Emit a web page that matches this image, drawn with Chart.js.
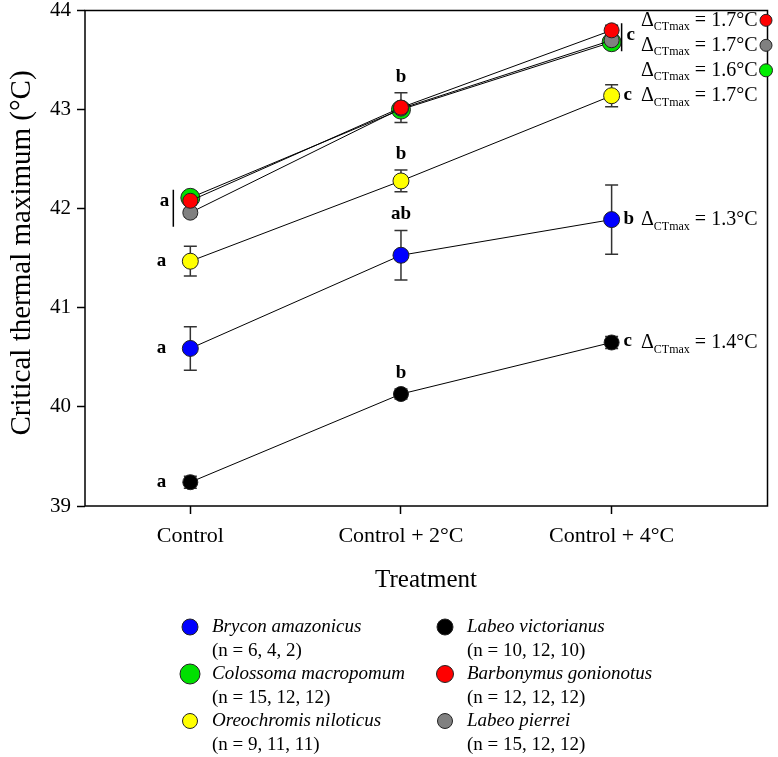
<!DOCTYPE html>
<html>
<head>
<meta charset="utf-8">
<script src="https://cdn.jsdelivr.net/npm/chart.js@4"></script>
<style>
  html, body { margin: 0; padding: 0; background: #fff; }
  #wrap { width: 778px; height: 757px; }
</style>
</head>
<body>
<div id="wrap"><canvas id="myChart" width="778" height="757"></canvas></div>
<script>
// categories and tick labels
var categories = ['Control', 'Control + 2°C', 'Control + 4°C'];
var yTicks = [39, 40, 41, 42, 43, 44];

// series: mean CTmax and error
var brycon = [40.59, 41.53, 41.89];
var bryconErr = [0.22, 0.25, 0.35];
var colossoma = [42.11, 43.00, 43.68];
var colossomaErr = [0.05, 0.05, 0.05];
var oreochromis = [41.47, 42.28, 43.14];
var oreochromisErr = [0.15, 0.11, 0.11];
var victorianus = [39.24, 40.13, 40.65];
var victorianusErr = [0.06, 0.05, 0.06];
var barbonymus = [42.08, 43.02, 43.80];
var barbonymusErr = [0.04, 0.15, 0.05];
var pierrei = [41.96, 43.01, 43.70];
var pierreiErr = [0.04, 0.05, 0.04];

// significance letters per treatment
var lettersBrycon = ['a', 'ab', 'b'];
var lettersOreo = ['a', 'b', 'c'];
var lettersVict = ['a', 'b', 'c'];
var lettersGroup = ['a', 'b', 'c'];   // colossoma / barbonymus / pierrei

// delta CTmax labels
var deltaLabels = ['1.7', '1.7', '1.6', '1.7', '1.3', '1.4'];

var legendNames = ['Brycon amazonicus', 'Colossoma macropomum', 'Oreochromis niloticus',
                   'Labeo victorianus', 'Barbonymus gonionotus', 'Labeo pierrei'];
var legendN = ['(n = 6, 4, 2)', '(n = 15, 12, 12)', '(n = 9, 11, 11)',
               '(n = 10, 12, 10)', '(n = 12, 12, 12)', '(n = 15, 12, 12)'];

var SERIF = '"Liberation Serif", "Times New Roman", serif';

function pts(arr) {
  var out = [];
  for (var i = 0; i < arr.length; i++) out.push({x: i, y: arr[i]});
  return out;
}

function ds(label, vals, errs, color, r, ord) {
  return {
    label: label, data: pts(vals), errs: errs,
    borderColor: '#000', borderWidth: 1,
    pointBackgroundColor: color, pointBorderColor: '#222', pointBorderWidth: 1,
    pointRadius: r, pointHoverRadius: r, tension: 0, fill: false, order: ord
  };
}

var datasets = [
  ds('Brycon amazonicus', brycon, bryconErr, '#0000ff', 8, 6),
  ds('Colossoma macropomum', colossoma, colossomaErr, '#00e000', 9.5, 5),
  ds('Oreochromis niloticus', oreochromis, oreochromisErr, '#ffff00', 8, 4),
  ds('Labeo victorianus', victorianus, victorianusErr, '#000000', 7.5, 3),
  ds('Labeo pierrei', pierrei, pierreiErr, '#808080', 7.5, 2),
  ds('Barbonymus gonionotus', barbonymus, barbonymusErr, '#ff0000', 7.5, 1)
];

var legendColors = ['#0000ff', '#00e000', '#ffff00', '#000000', '#ff0000', '#808080'];
var legendRadius = [8, 10, 7.5, 8, 8.5, 7.5];

var errorBars = {
  id: 'errorBars',
  beforeDatasetsDraw: function(chart) {
    var ctx = chart.ctx, xs = chart.scales.x, ys = chart.scales.y;
    ctx.save();
    ctx.strokeStyle = '#333';
    ctx.lineWidth = 1.5;
    chart.data.datasets.forEach(function(d) {
      d.data.forEach(function(p, i) {
        var e = d.errs[i];
        var px = xs.getPixelForValue(p.x);
        var t = ys.getPixelForValue(p.y + e), b = ys.getPixelForValue(p.y - e);
        ctx.beginPath();
        ctx.moveTo(px, t); ctx.lineTo(px, b);
        ctx.moveTo(px - 6.5, t); ctx.lineTo(px + 6.5, t);
        ctx.moveTo(px - 6.5, b); ctx.lineTo(px + 6.5, b);
        ctx.stroke();
      });
    });
    ctx.restore();
  }
};

function drawDelta(ctx, x, y, val) {
  ctx.textBaseline = 'middle';
  ctx.textAlign = 'left';
  ctx.font = '20px ' + SERIF;
  ctx.fillText('\u0394', x, y);
  var w = ctx.measureText('\u0394').width;
  ctx.font = '12px ' + SERIF;
  ctx.fillText('CTmax', x + w, y + 7);
  var w2 = ctx.measureText('CTmax').width;
  ctx.font = '20px ' + SERIF;
  ctx.fillText(' = ' + val + '°C', x + w + w2, y);
}

function dot(ctx, x, y, r, color) {
  ctx.beginPath();
  ctx.arc(x, y, r, 0, Math.PI * 2);
  ctx.fillStyle = color;
  ctx.fill();
  ctx.strokeStyle = '#222';
  ctx.lineWidth = 1;
  ctx.stroke();
}

var extras = {
  id: 'extras',
  afterDraw: function(chart) {
    var ctx = chart.ctx, xs = chart.scales.x, ys = chart.scales.y, a = chart.chartArea;
    ctx.save();
    // frame
    ctx.strokeStyle = '#000';
    ctx.lineWidth = 1.5;
    ctx.strokeRect(a.left, a.top, a.right - a.left, a.bottom - a.top);

    // titles
    ctx.fillStyle = '#000';
    ctx.font = '25px ' + SERIF;
    ctx.textAlign = 'center';
    ctx.textBaseline = 'middle';
    ctx.fillText('Treatment', 426, 580);
    ctx.save();
    ctx.translate(22, 253);
    ctx.rotate(-Math.PI / 2);
    ctx.font = '29px ' + SERIF;
    ctx.fillText('Critical thermal maximum (°C)', 0, 0);
    ctx.restore();

    // letters
    ctx.font = 'bold 19px ' + SERIF;
    function X(i) { return xs.getPixelForValue(i); }
    function Y(v) { return ys.getPixelForValue(v); }
    ctx.textAlign = 'right';
    ctx.fillText(lettersOreo[0], X(0) - 24, Y(oreochromis[0]));
    ctx.fillText(lettersBrycon[0], X(0) - 24, Y(brycon[0]));
    ctx.fillText(lettersVict[0], X(0) - 24, Y(victorianus[0]));
    ctx.fillText(lettersGroup[0], X(0) - 21, Y(colossoma[0]) + 3);
    ctx.textAlign = 'center';
    ctx.fillText(lettersVict[1], X(1), Y(victorianus[1] + victorianusErr[1]) - 16);
    ctx.fillText(lettersBrycon[1], X(1), Y(brycon[1] + bryconErr[1]) - 16);
    ctx.fillText(lettersOreo[1], X(1), Y(oreochromis[1] + oreochromisErr[1]) - 16);
    ctx.fillText(lettersGroup[1], X(1), Y(barbonymus[1] + barbonymusErr[1]) - 16);
    ctx.textAlign = 'left';
    ctx.fillText(lettersVict[2], X(2) + 12, Y(victorianus[2]) - 1);
    ctx.fillText(lettersBrycon[2], X(2) + 12, Y(brycon[2]) - 1);
    ctx.fillText(lettersOreo[2], X(2) + 12, Y(oreochromis[2]) - 1);
    ctx.fillText(lettersGroup[2], X(2) + 15, Y(43.75));
    // grouping bars
    ctx.strokeStyle = '#000';
    ctx.lineWidth = 1.5;
    ctx.beginPath();
    ctx.moveTo(X(0) - 17, Y(colossoma[0]) - 8); ctx.lineTo(X(0) - 17, Y(pierrei[0]) + 14);
    ctx.moveTo(X(2) + 10, Y(barbonymus[2]) - 7); ctx.lineTo(X(2) + 10, Y(colossoma[2]) + 9);
    ctx.stroke();

    // delta CTmax labels
    ctx.fillStyle = '#000';
    var dx = 641;
    var yTop = Y(barbonymus[2]);
    drawDelta(ctx, dx, yTop - 10, deltaLabels[0]);
    drawDelta(ctx, dx, yTop + 15, deltaLabels[1]);
    drawDelta(ctx, dx, yTop + 40, deltaLabels[2]);
    drawDelta(ctx, dx, Y(oreochromis[2]), deltaLabels[3]);
    drawDelta(ctx, dx, Y(brycon[2]), deltaLabels[4]);
    drawDelta(ctx, dx, Y(victorianus[2]), deltaLabels[5]);
    dot(ctx, 766, yTop - 10, 6, '#ff0000');
    dot(ctx, 766, yTop + 15, 6, '#808080');
    dot(ctx, 766, yTop + 40, 6.5, '#00ee00');

    // legend
    var colX = [190, 445];
    var rowY = [627, 674, 721];
    for (var k = 0; k < 6; k++) {
      var c = Math.floor(k / 3), r = k % 3;
      var mx = colX[c], my = rowY[r];
      dot(ctx, mx, my, legendRadius[k], legendColors[k]);
      ctx.fillStyle = '#000';
      ctx.textAlign = 'left';
      ctx.textBaseline = 'middle';
      ctx.font = 'italic 19px ' + SERIF;
      ctx.fillText(legendNames[k], mx + 22, my);
      ctx.font = '19px ' + SERIF;
      ctx.fillText(legendN[k], mx + 22, my + 24);
    }
    ctx.restore();
  }
};

window.Line = new Chart(document.getElementById('myChart').getContext('2d'), {
  type: 'line',
  data: { datasets: datasets },
  plugins: [errorBars, extras],
  options: {
    responsive: false,
    animation: false,
    layout: { padding: { top: 7, right: 8, left: 0, bottom: 0 } },
    plugins: { legend: { display: false }, tooltip: { enabled: false } },
    scales: {
      x: {
        type: 'linear', min: -0.5, max: 2.74,
        afterBuildTicks: function(s) { s.ticks = [{value: 0}, {value: 1}, {value: 2}]; },
        afterFit: function(s) { s.height = 251; s.paddingLeft = 0; s.paddingRight = 0; },
        ticks: {
          color: '#000', padding: 9, maxRotation: 0,
          font: { family: SERIF, size: 22 },
          callback: function(v) { return categories[v]; }
        },
        grid: { drawOnChartArea: false, drawTicks: true, tickLength: 8, color: '#000', tickWidth: 1.5 },
        border: { display: false }
      },
      y: {
        min: 39, max: 44,
        afterBuildTicks: function(s) { s.ticks = yTicks.map(function(v) { return {value: v}; }); },
        afterFit: function(s) { s.width = 85; s.paddingTop = 0; s.paddingBottom = 0; },
        ticks: {
          color: '#000', padding: 6,
          font: { family: SERIF, size: 21, lineHeight: 0.6 }
        },
        grid: { drawOnChartArea: false, drawTicks: true, tickLength: 8, color: '#000', tickWidth: 1.5 },
        border: { display: false }
      }
    }
  }
});
</script>
</body>
</html>
